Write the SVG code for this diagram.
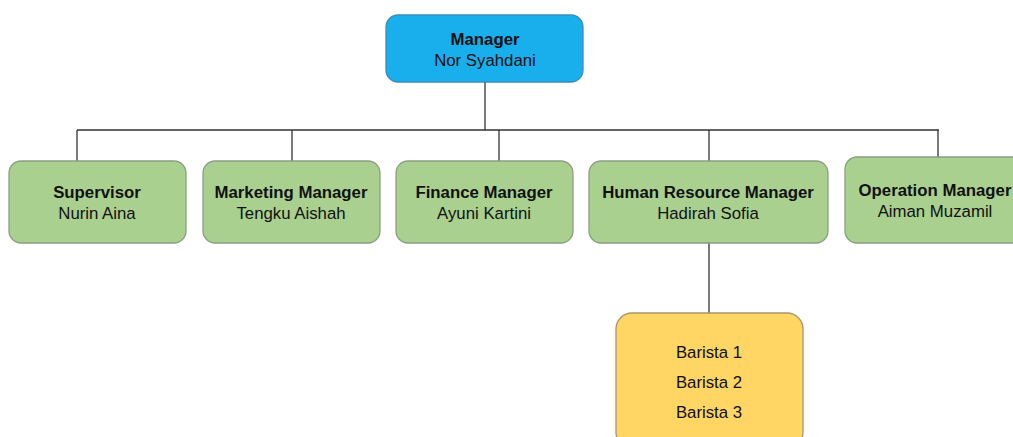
<svg xmlns="http://www.w3.org/2000/svg" width="1013" height="437" viewBox="0 0 1013 437">
<style>
text{font-family:"Liberation Sans",Arial,sans-serif;font-size:16.8px;fill:#111;text-anchor:middle}
.b{font-weight:bold}
.blue{fill:#19AEEC;stroke:#3A8DBE;stroke-width:1.3}
.green{fill:#A9D08E;stroke:#8C9F83;stroke-width:1.3}
.yellow{fill:#FFD563;stroke:#A8976A;stroke-width:1.3}
.c{stroke:#333;stroke-width:1.3;fill:none}
</style>
<rect width="1013" height="437" fill="#fff"/>
<g id="connectors">
<path class="c" d="M485 82V130M77 130H939M77 130V161M292 130V161M499 130V161M709 130V161M938 130V157M709 243V313"/>
</g>
<g id="manager"><rect class="blue" x="386" y="15" width="197" height="67" rx="12"/><text class="b" x="485" y="45">Manager</text><text x="485" y="66">Nor Syahdani</text></g>
<g id="supervisor"><rect class="green" x="9" y="161" width="177" height="82" rx="12"/><text class="b" x="97" y="198">Supervisor</text><text x="97" y="219">Nurin Aina</text></g>
<g id="marketing"><rect class="green" x="203" y="161" width="177" height="82" rx="12"/><text class="b" x="291" y="198">Marketing Manager</text><text x="291" y="219">Tengku Aishah</text></g>
<g id="finance"><rect class="green" x="396" y="161" width="177" height="82" rx="12"/><text class="b" x="484" y="198">Finance Manager</text><text x="484" y="219">Ayuni Kartini</text></g>
<g id="hr"><rect class="green" x="589" y="161" width="239" height="82" rx="12"/><text class="b" x="708" y="198">Human Resource Manager</text><text x="708" y="219">Hadirah Sofia</text></g>
<g id="operation"><rect class="green" x="845" y="157" width="182" height="86" rx="12"/><text class="b" x="935" y="196">Operation Manager</text><text x="935" y="217">Aiman Muzamil</text></g>
<g id="baristas"><rect class="yellow" x="616" y="313" width="187" height="135" rx="16"/><text x="709" y="358">Barista 1</text><text x="709" y="388">Barista 2</text><text x="709" y="418">Barista 3</text></g>
</svg>
